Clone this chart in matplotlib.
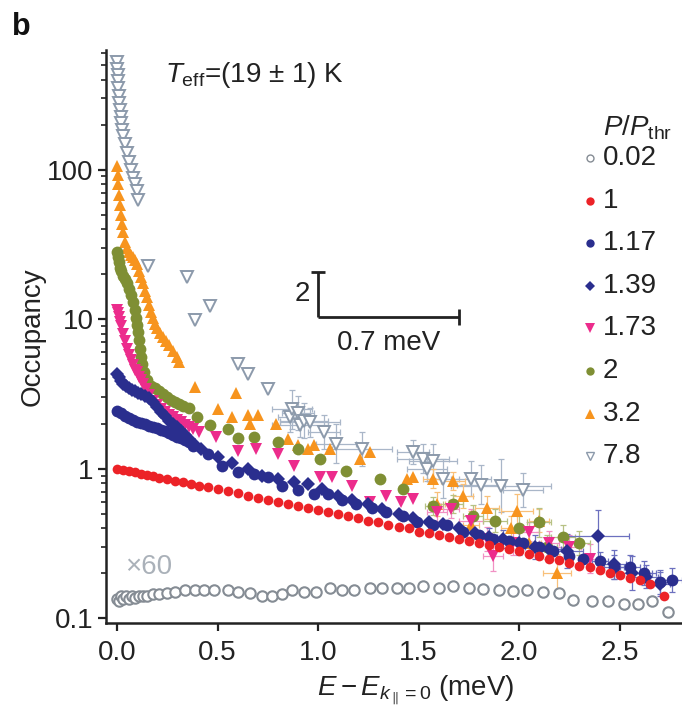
import matplotlib
matplotlib.use('Agg')
import matplotlib.pyplot as plt
import numpy as np
from matplotlib.lines import Line2D
from matplotlib.ticker import FixedLocator, FixedFormatter, LogLocator, NullFormatter

plt.rcParams['font.family'] = ['Liberation Sans', 'DejaVu Sans']
plt.rcParams['mathtext.fontset'] = 'custom'
plt.rcParams['mathtext.rm'] = 'Liberation Sans'
plt.rcParams['mathtext.it'] = 'Liberation Sans:italic'
plt.rcParams['mathtext.bf'] = 'Liberation Sans:bold'

# ---------------- data ----------------
legend_labels = ['0.02', '1', '1.17', '1.39', '1.73', '2', '3.2', '7.8']

# P/Pthr = 0.02 (x60)
c_x = [0.00,0.01,0.02,0.03,0.045,0.06,0.075,0.09,0.11,0.13,
       0.15,0.18,0.21,0.25,0.29,0.34,0.39,0.43,0.48,0.55,
       0.60,0.66,0.72,0.77,0.82,0.87,0.93,0.99,1.06,1.12,
       1.18,1.26,1.32,1.39,1.45,1.52,1.60,1.67,1.75,1.82,
       1.90,1.97,2.04,2.12,2.20,2.27,2.36,2.44,2.52,2.59,
       2.66,2.74]
c_y = [0.135,0.13,0.14,0.135,0.14,0.135,0.14,0.137,0.14,0.14,
       0.142,0.145,0.145,0.148,0.15,0.155,0.155,0.155,0.155,0.155,
       0.15,0.148,0.142,0.14,0.145,0.155,0.15,0.15,0.16,0.155,
       0.155,0.16,0.16,0.16,0.16,0.165,0.16,0.165,0.16,0.158,
       0.155,0.153,0.155,0.15,0.148,0.133,0.13,0.13,0.125,0.125,
       0.13,0.11]

# P/Pthr = 1
r_x = [0.00,0.03,0.06,0.09,0.12,0.15,0.18,0.21,0.25,0.29,0.33,0.37,0.41,0.45,
       0.50,0.55,0.60,0.65,0.70,0.75,0.80,0.85,0.90,0.95,
       1.00,1.05,1.10,1.15,1.20,1.25,1.30,1.35,1.40,1.45,
       1.50,1.55,1.60,1.65,1.70,1.75,1.80,1.85,1.90,1.95,
       2.00,2.05,2.10,2.15,2.20,2.25,2.30,2.35,2.40,2.45,
       2.50,2.55,2.60,2.65,2.72]
r_y = [1.00,0.98,0.96,0.95,0.92,0.91,0.89,0.87,0.85,0.83,0.81,0.79,0.77,0.76,
       0.73,0.71,0.69,0.66,0.64,0.62,0.60,0.58,0.56,0.55,
       0.53,0.51,0.50,0.48,0.47,0.45,0.44,0.42,0.41,0.40,
       0.38,0.37,0.36,0.35,0.34,0.33,0.32,0.31,0.30,0.29,
       0.28,0.27,0.26,0.25,0.245,0.235,0.225,0.22,0.21,0.20,
       0.195,0.185,0.18,0.17,0.14]

# P/Pthr = 1.17
b117_x = [0.00,0.02,0.04,0.06,0.08,0.10,0.12,0.14,0.16,0.18,
          0.20,0.22,0.24,0.26,0.28,0.30,0.32,0.34,0.36,0.38,
          0.45,0.52,0.60,0.68,0.75,0.82,0.90,0.98,1.05,1.12,
          1.19,1.27,1.34,1.42,1.49,1.57,1.64,1.72,1.80,1.87,
          1.95,2.02,2.10,2.17,2.25,2.32,2.40,2.47,2.55,2.62,
          2.70,2.76]
b117_y = [2.45,2.35,2.25,2.18,2.12,2.06,2.02,1.98,1.94,1.90,
          1.86,1.82,1.78,1.72,1.68,1.64,1.60,1.56,1.50,1.42,
          1.25,1.05,0.95,0.92,0.88,0.77,0.72,0.68,0.68,0.62,
          0.58,0.55,0.51,0.48,0.44,0.42,0.42,0.38,0.36,0.34,
          0.33,0.32,0.30,0.28,0.26,0.25,0.24,0.22,0.22,0.20,
          0.175,0.18]
b117_xerr = [0.04,0.05,0.05,0.06,0.05,0.05]
b117_yfrac = [0.15,0.2,0.2,0.2,0.2,0.2]

# P/Pthr = 1.39
b139_x = [0.00,0.01,0.02,0.03,0.045,0.06,0.075,0.09,0.105,0.12,
          0.14,0.16,0.18,0.20,0.22,0.24,0.26,0.28,0.30,0.32,
          0.34,0.36,0.39,
          0.42,0.50,0.57,0.65,0.72,0.80,0.88,0.95,1.02,1.10,
          1.17,1.25,1.32,1.40,1.47,1.55,1.62,1.70,1.78,1.85,
          1.92,2.00,2.08,2.15,2.24,2.39,2.47,2.56,2.63,2.70]
b139_y = [4.3,4.1,3.85,3.7,3.55,3.45,3.38,3.3,3.22,3.15,
          3.08,2.95,2.8,2.6,2.4,2.25,2.1,2.0,1.9,1.8,
          1.68,1.58,1.43,
          1.35,1.2,1.1,1.0,0.9,0.85,0.82,0.79,0.73,0.66,
          0.62,0.58,0.54,0.5,0.47,0.44,0.43,0.4,0.37,0.35,
          0.34,0.32,0.3,0.29,0.28,0.355,0.23,0.2,0.19,0.17]
b139_xerr = [0.04,0.05,0.05,0.05,0.06,0.08,0.155,0.06,0.10,0.06,0.05]
b139_yfrac = [0.15,0.15,0.2,0.2,0.2,0.3,0.5,0.25,0.3,0.2,0.2]

# P/Pthr = 1.73
m_x = [0.00,0.005,0.01,0.015,0.02,0.03,0.04,0.05,0.06,0.07,
       0.08,0.09,0.10,0.11,0.12,0.13,0.145,0.16,0.18,0.20,
       0.22,0.24,0.26,0.28,0.30,0.32,0.34,0.36,0.38,0.41,
       0.49,0.60,0.69,0.80,0.88,1.01,1.07,1.17,1.26,1.34,
       1.41,1.47,1.59,1.66,1.76,1.84,1.87,1.97,2.05,2.15,
       2.25,2.35]
m_y = [11.5,11.0,10.3,9.6,9.0,8.0,7.1,6.3,5.8,5.3,
       4.9,4.6,4.4,4.1,3.9,3.7,3.4,3.1,2.85,2.65,
       2.5,2.4,2.3,2.2,2.12,2.04,1.97,1.9,1.84,1.77,
       1.64,1.32,1.36,1.26,1.05,0.88,0.88,0.77,0.60,0.66,
       0.60,0.63,0.51,0.54,0.45,0.34,0.26,0.32,0.38,0.32,
       0.30,0.25]
m_xerr = [0.05,0.04,0.06,0.05,0.05,0.06,0.05,0.05,0.06,0.05]
m_yfrac = [0.15,0.15,0.2,0.2,0.25,0.2,0.15,0.2,0.2,0.25]

# P/Pthr = 2
g_x = [0.00,0.005,0.01,0.015,0.02,0.03,0.04,0.05,0.06,0.07,
       0.08,0.09,0.095,0.10,0.105,0.11,0.115,0.12,0.125,0.135,
       0.15,0.17,0.19,0.21,0.23,0.25,0.27,0.29,0.31,0.33,
       0.36,0.40,0.46,0.55,0.60,0.68,0.80,0.90,1.01,1.14,
       1.31,1.42,1.57,1.67,1.77,1.88,2.00,2.10,2.14,2.22,
       2.30]
g_y = [28,26,24,22,21,19.5,18.5,17.5,16,14.5,
       13,11.5,10.2,9.2,8.2,7.2,6.3,5.6,5.0,4.4,
       3.9,3.6,3.45,3.3,3.15,3.0,2.9,2.8,2.7,2.62,
       2.55,2.2,1.95,1.85,1.6,1.64,1.52,1.35,1.17,0.97,
       0.86,0.73,0.56,0.58,0.48,0.45,0.40,0.44,0.30,0.35,
       0.32]
g_xerr = [0.04,0.05,0.05,0.06,0.05,0.06,0.05,0.06,0.05]
g_yfrac = [0.15,0.15,0.2,0.2,0.2,0.25,0.2,0.2,0.2]

# P/Pthr = 3.2
o_x = [0.00,0.003,0.006,0.01,0.015,0.02,0.025,0.03,0.04,0.05,
       0.06,0.07,0.08,0.09,0.10,0.11,0.12,0.13,0.14,0.15,
       0.16,0.17,0.18,0.19,0.20,0.215,0.23,0.245,0.26,0.28,
       0.30,0.31,
       0.39,0.50,0.57,0.59,0.65,0.66,0.70,0.79,0.85,0.90,
       0.95,0.98,1.06,1.21,1.26,1.44,1.47,1.57,1.59,1.67,
       1.72,1.76,1.84,1.96,1.99,2.05,2.10,2.19]
o_y = [105,92,80,68,58,50,43,38,33,30,
       28,27,26,25,23.5,21,19,17.5,15.5,14,
       12.5,11.2,10.2,9.3,8.7,8.1,7.6,7.1,6.7,6.1,
       5.6,5.2,
       3.5,2.5,2.2,3.2,2.27,2.0,2.3,2.0,1.59,1.43,
       1.36,1.43,1.36,1.17,1.3,0.86,0.88,0.86,0.58,0.83,
       0.66,0.42,0.55,0.40,0.52,0.32,0.45,0.20]
o_xerr = [0.05,0.04,0.06,0.05,0.04,0.06,0.05,0.08,0.06,0.05,0.07]
o_yfrac = [0.15,0.2,0.15,0.2,0.25,0.2,0.2,0.3,0.25,0.2,0.35]

# P/Pthr = 7.8
v_x = [0.0,0.0,0.003,0.005,0.007,0.01,0.012,0.015,0.018,0.02,
       0.025,0.03,0.04,0.05,0.06,0.07,0.08,0.09,0.10,0.105,
       0.155,0.35,0.39,0.46,0.60,0.65,0.75,
       0.86,0.87,0.90,0.91,0.93,0.96,1.03,1.09,1.22,1.47,
       1.52,1.54,1.57,1.62,1.76,1.81,1.91,2.02]
v_y = [520,470,430,390,350,310,280,250,225,205,
       185,167,148,129,113,99,88,80,72,63,
       22.5,19,9.8,12.3,5.0,4.3,3.4,
       2.2,2.5,2.35,1.95,2.1,2.05,1.75,1.47,1.36,1.3,
       1.17,1.0,1.12,0.86,0.86,0.78,0.77,0.72]
v_xerr = [0.06,0.10,0.08,0.14,0.12,0.15,0.08,0.10,0.15,0.08,
          0.13,0.10,0.12,0.08,0.10,0.12,0.25,0.10]
v_yfrac = [0.25,0.35,0.3,0.2,0.3,0.25,0.3,0.35,0.3,0.2,
           0.25,0.2,0.3,0.35,0.3,0.35,0.5,0.3]

x_ticks = [0.0, 0.5, 1.0, 1.5, 2.0, 2.5]
y_ticks = [0.1, 1, 10, 100]
y_ticklabels = ['0.1', '1', '10', '100']

# ---------------- styles ----------------
C_GREY_C = '#858c94'
C_RED = '#ec2227'
C_BLUE = '#2a2e8e'
C_MAG = '#ec2c8c'
C_GREEN = '#7f8f34'
C_ORANGE = '#f7941e'
C_GREY_V = '#8c9aab'

fig = plt.figure(figsize=(6.82, 7.11), dpi=100)
ax = fig.add_axes([106/682, 1-623/711, 1-106/682, (623-50)/711])
ax.set_yscale('log')
ax.set_xlim(-0.055, 2.81)
ax.set_ylim(0.093, 630)


def errs(x, y, xerr, yfrac, thr, color, z):
    x = np.asarray(x); y = np.asarray(y)
    sel = x >= thr
    xs, ys = x[sel], y[sel]
    f = np.asarray(yfrac)
    lo = ys - ys / (1 + f)
    hi = ys * f
    ax.errorbar(xs, ys, xerr=xerr, yerr=[lo, hi], fmt='none', ecolor=color,
                elinewidth=0.9, capsize=2.5, capthick=0.9, zorder=z)


# error bars
errs(v_x, v_y, v_xerr, v_yfrac, 0.85, '#a9b6c8', 1)
errs(o_x, o_y, o_xerr, o_yfrac, 1.55, '#f8c07a', 1)
errs(m_x, m_y, m_xerr, m_yfrac, 1.55, '#f191c4', 1)
errs(g_x, g_y, g_xerr, g_yfrac, 1.55, '#b7c184', 1)
errs(b139_x, b139_y, b139_xerr, b139_yfrac, 1.83, '#6c70bf', 1)
errs(b117_x, b117_y, b117_xerr, b117_yfrac, 2.38, '#6c70bf', 1)

# series
ax.plot(c_x, c_y, ls='none', marker='o', ms=7.5, mfc='white', mec=C_GREY_C, mew=1.5, zorder=3)
ax.plot(v_x, v_y, ls='none', marker='v', ms=8.5, mfc='white', mec=C_GREY_V, mew=1.4, zorder=3)
ax.plot(o_x, o_y, ls='none', marker='^', ms=9, color=C_ORANGE, mec=C_ORANGE, mew=0, zorder=4)
ax.plot(g_x, g_y, ls='none', marker='o', ms=8.5, color=C_GREEN, mew=0, zorder=4)
ax.plot(m_x, m_y, ls='none', marker='v', ms=9, color=C_MAG, mew=0, zorder=5)
ax.plot(b139_x, b139_y, ls='none', marker='D', ms=7.2, color=C_BLUE, mew=0, zorder=5)
ax.plot(b117_x, b117_y, ls='none', marker='o', ms=8.5, color=C_BLUE, mew=0, zorder=5)
ax.plot(r_x, r_y, ls='none', marker='o', ms=7, color=C_RED, mew=0, zorder=6)

# axes styling
for s in ['top', 'right']:
    ax.spines[s].set_visible(False)
for s in ['left', 'bottom']:
    ax.spines[s].set_linewidth(1.8)
    ax.spines[s].set_color('#222222')
ax.set_xticks(x_ticks)
ax.set_xticklabels(['%.1f' % t for t in x_ticks])
ax.yaxis.set_major_locator(FixedLocator(y_ticks))
ax.yaxis.set_major_formatter(FixedFormatter(y_ticklabels))
ax.yaxis.set_minor_locator(LogLocator(base=10, subs=np.arange(2, 10)))
ax.yaxis.set_minor_formatter(NullFormatter())
ax.tick_params(axis='both', which='major', direction='out', length=6, width=1.6,
               labelsize=20, color='#222222', labelcolor='#222222')
ax.tick_params(axis='x', which='major', pad=6)
ax.tick_params(axis='y', which='major', pad=3)
ax.tick_params(axis='y', which='minor', direction='out', length=3.8, width=1.2, color='#222222')

ax.set_ylabel('Occupancy', fontsize=20, color='#222222', va='center')
ax.yaxis.set_label_coords(-0.127, 0.5)
ax.set_xlabel(r'$E - E_{k_{\parallel}=0}$ (meV)', fontsize=20, color='#222222', va='center')
ax.xaxis.set_label_coords(0.538, -0.117)

# scale bar
sb_x0, sb_len, sb_y0, sb_fac = 1.0, 0.7, 10.4, 2.0
kw = dict(color='#222222', lw=2.0, solid_capstyle='butt', zorder=7)
ax.plot([sb_x0, sb_x0 + sb_len], [sb_y0, sb_y0], **kw)
ax.plot([sb_x0, sb_x0], [sb_y0, sb_y0 * sb_fac], **kw)
ax.plot([sb_x0 - 0.035, sb_x0 + 0.035], [sb_y0 * sb_fac, sb_y0 * sb_fac], **kw)
ax.plot([sb_x0 + sb_len, sb_x0 + sb_len], [sb_y0 / 1.13, sb_y0 * 1.13], **kw)
ax.text(sb_x0 - 0.04, sb_y0 * 1.42, '2', fontsize=20, ha='right', va='center', color='#222222')
ax.text(sb_x0 + sb_len / 2, sb_y0 / 1.5, '0.7 meV', fontsize=20, ha='center', va='center', color='#222222')

# annotations
fig.text(0.018, 0.962, 'b', fontsize=22, fontweight='bold', va='center', color='#111111')
fig.text(165/682, 1-75/711, r'$T_{\rm eff}$=(19 ± 1) K', fontsize=20, va='center', color='#222222')
fig.text(125/682, 1-567/711, '×60', fontsize=20, va='center', color='#aab1b9')

# legend (manual)
leg_styles = [
    dict(marker='o', ms=5, mfc='white', mec=C_GREY_C, mew=1.0),
    dict(marker='o', ms=6, color=C_RED, mew=0),
    dict(marker='o', ms=6, color=C_BLUE, mew=0),
    dict(marker='D', ms=5, color=C_BLUE, mew=0),
    dict(marker='v', ms=6.5, color=C_MAG, mew=0),
    dict(marker='o', ms=6, color=C_GREEN, mew=0),
    dict(marker='^', ms=6.5, color=C_ORANGE, mew=0),
    dict(marker='v', ms=6, mfc='white', mec=C_GREY_V, mew=1.0),
]
fig.text(603/682, 1-128/711, r'$P/P_{\rm thr}$', fontsize=20, va='center', color='#222222')
for i, (lab, st) in enumerate(zip(legend_labels, leg_styles)):
    yy = 1 - (158 + 42.6 * i) / 711
    fig.add_artist(Line2D([590/682], [yy], transform=fig.transFigure, ls='none', **st))
    fig.text(603/682, yy, lab, fontsize=20, va='center', color='#222222')

fig.savefig('out.png', dpi=100)
